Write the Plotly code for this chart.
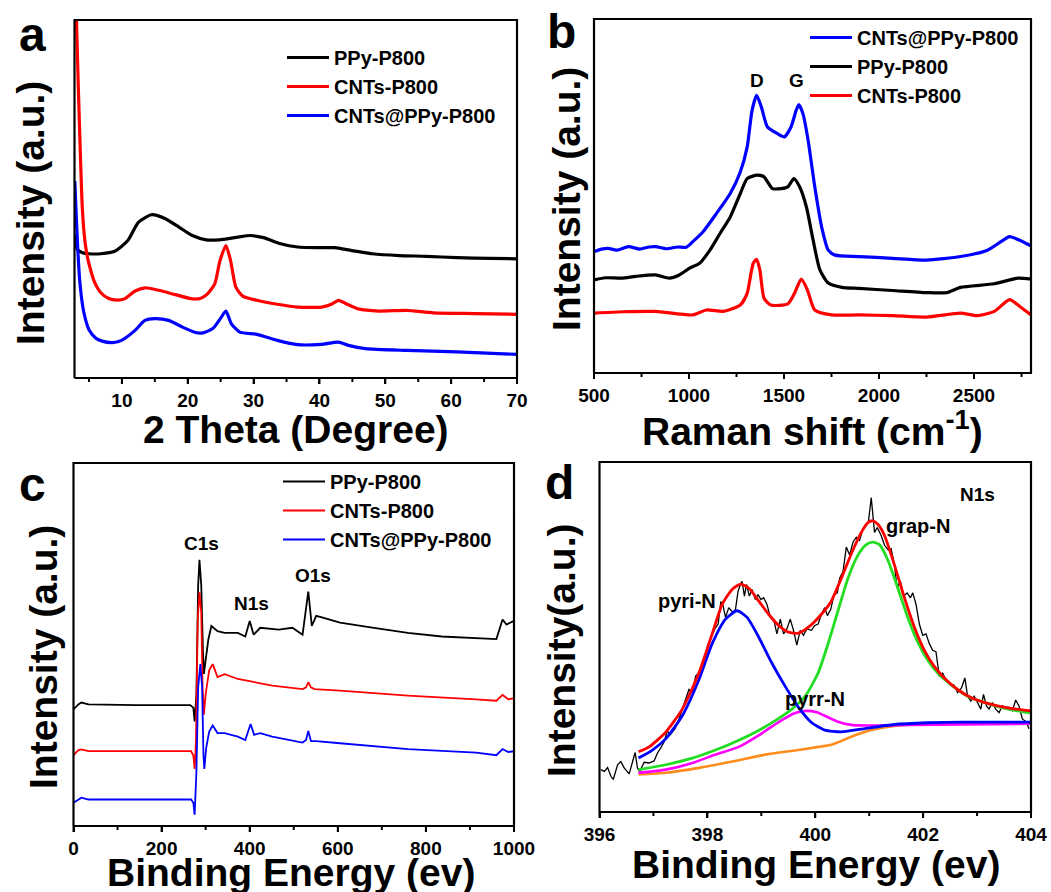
import plotly.graph_objects as go

W, H = 1051, 892
FONT = "Liberation Sans, Arial, Helvetica, sans-serif"

# ---------------- (a) XRD ----------------
xrd_theta_ppy = [2.85, 3.0, 3.3, 4.0, 5.0, 6.8, 8.9, 10.9, 12.5, 14.5, 16.6, 18.7, 20.7, 22.8, 24.8,
                 27.4, 29.5, 31.5, 34.1, 36.7, 39.8, 42.3, 44.9, 48.0, 52.1, 56.2, 60.9, 66.0, 70]
xrd_int_ppy = [40, 37, 35.8, 35.0, 34.7, 34.7, 35.4, 38.4, 43.5, 45.6, 44.5, 42.1, 39.8, 38.6, 38.6,
               39.3, 39.8, 39.2, 37.5, 36.6, 36.4, 36.4, 35.6, 34.7, 34.2, 34.0, 33.6, 33.4, 33.3]

xrd_theta_cnt = [2.8, 3.1, 3.4, 3.7, 4.0, 4.4, 4.85, 5.2, 5.8, 6.8, 8.0, 8.9, 10.4, 12.0, 13.5, 15.6,
                 18.1, 20.7, 22.0, 23.0, 24.1, 24.9, 25.8, 26.5, 27.3, 28.4, 30.5, 33.6, 36.7, 40.3,
                 41.8, 42.9, 43.9, 45.9, 49.0, 53.2, 57.3, 63.5, 70]
xrd_int_cnt = [130, 100, 80, 62, 47, 38, 33, 30.5, 27, 23.8, 22.2, 21.8, 22.1, 24.3, 25.2, 24.5,
               23.3, 22.1, 22.3, 23.5, 26.3, 32.8, 37.0, 32.8, 25.4, 22.8, 21.7, 20.6, 19.8, 19.8,
               20.6, 21.7, 20.9, 19.3, 18.7, 18.9, 18.2, 18.0, 17.8]

xrd_theta_cp = [2.85, 3.0, 3.3, 3.6, 4.2, 5.0, 6.0, 7.0, 8.5, 9.5, 10.4, 12.0, 13.5, 15.0, 17.1, 19.2,
                21.2, 22.3, 23.8, 25.1, 25.8, 26.6, 27.9, 30.5, 33.6, 36.7, 40.3, 42.9, 44.4, 47.0,
                53.2, 60.9, 70]
xrd_int_cp = [55, 48, 36, 27, 18.5, 13.5, 11.2, 10.3, 9.9, 10.2, 11.0, 13.3, 16.1, 16.6, 16.1, 14.2,
              12.7, 12.6, 13.8, 17.0, 18.7, 15.2, 12.8, 12.2, 10.5, 9.3, 9.4, 10.0, 9.1, 8.2,
              7.7, 7.3, 6.6]

# ---------------- (b) Raman ----------------
raman_shift_cp = [500, 540, 575, 620, 682, 740, 790, 824, 880, 940, 985, 1020, 1074, 1145, 1217,
                  1270, 1306, 1332, 1356, 1381, 1413, 1466, 1502, 1537, 1564, 1578, 1600, 1627,
                  1662, 1698, 1733, 1769, 1894, 2072, 2250, 2429, 2571, 2642, 2687, 2732, 2800]
raman_int_cp = [34.3, 35.0, 35.2, 34.7, 35.7, 35.0, 35.6, 35.7, 35.1, 35.6, 35.5, 37.1, 39.9, 45.1,
                50.7, 56.8, 63.8, 74.2, 78.4, 75.1, 69.5, 67.6, 66.7, 69.5, 74.2, 75.8, 73.2, 65.7,
                52.6, 41.3, 34.7, 33.3, 32.9, 32.4, 31.9, 32.9, 34.7, 37.1, 38.5, 37.7, 35.9]

raman_shift_ppy = [500, 560, 646, 720, 824, 896, 949, 1003, 1056, 1110, 1163, 1217, 1270, 1306,
                   1359, 1395, 1439, 1484, 1520, 1552, 1582, 1618, 1653, 1689, 1733, 1805, 1894,
                   2072, 2250, 2357, 2429, 2607, 2732, 2800]
raman_int_ppy = [26.3, 26.9, 26.8, 27.3, 27.7, 26.8, 27.7, 29.6, 31.0, 34.7, 39.4, 44.1, 50.7, 54.9,
                 55.9, 55.4, 52.1, 52.1, 52.6, 54.9, 52.6, 46.9, 37.6, 29.1, 25.4, 24.2, 23.9,
                 23.3, 22.7, 22.7, 24.2, 25.2, 26.8, 26.5]

raman_shift_cnt = [500, 650, 824, 1020, 1092, 1181, 1270, 1306, 1338, 1356, 1373, 1395, 1430, 1520,
                   1555, 1591, 1623, 1662, 1751, 1894, 2072, 2250, 2429, 2518, 2607, 2687, 2741, 2800]
raman_int_cnt = [16.9, 17.3, 17.4, 16.4, 17.8, 17.4, 19.2, 22.5, 31.0, 32.1, 29.1, 21.1, 19.2, 19.5,
                 22.5, 26.5, 23.5, 17.8, 16.4, 16.4, 16.2, 15.8, 16.9, 16.2, 17.4, 20.7, 18.8, 16.4]

# ---------------- (c) XPS survey ----------------
xps_be_ppy = [0, 11, 18, 34, 142, 265, 272, 275, 279, 283, 286, 290, 294, 296, 300, 306, 313, 327,
              343, 373, 390, 400, 409, 424, 466, 497, 520, 525, 533, 541, 551, 566, 605, 682, 759,
              836, 914, 960, 974, 983, 991, 1000]
xps_int_ppy = [32.1, 33.5, 34.0, 33.5, 33.3, 33.3, 32.6, 28.8, 36.3, 66.3, 73.3, 66.3, 47.6, 41.9,
               45.7, 51.3, 55.1, 53.7, 53.2, 53.2, 52.2, 56.5, 52.7, 54.6, 54.1, 54.6, 52.7, 56.9,
               64.6, 55.1, 57.9, 57.4, 56.0, 54.6, 53.2, 52.2, 51.8, 51.5, 56.9, 55.5, 56.0, 56.5]

xps_be_cnt = [0, 11, 18, 34, 142, 267, 272, 275, 278, 282, 286, 290, 293, 296, 300, 308, 316, 327,
              343, 373, 451, 520, 528, 533, 539, 547, 605, 759, 914, 960, 974, 987, 1000]
xps_int_cnt = [19.5, 20.9, 21.1, 20.6, 20.6, 20.6, 19.5, 15.7, 23.2, 56.9, 64.4, 58.8, 38.2, 30.7,
               36.3, 42.9, 44.6, 41.0, 41.8, 40.5, 38.7, 37.7, 38.2, 39.6, 38.2, 37.7, 37.3, 35.9,
               34.9, 34.5, 36.1, 34.9, 35.2]

xps_be_cp = [0, 11, 18, 34, 142, 267, 272, 275, 279, 283, 288, 292, 295, 297, 301, 308, 316, 327,
             343, 373, 390, 402, 410, 424, 451, 520, 528, 533, 539, 551, 605, 759, 914, 960, 974,
             987, 1000]
xps_int_cp = [6.4, 7.3, 7.8, 7.3, 7.3, 7.3, 6.4, 3.1, 14.8, 38.2, 44.6, 38.2, 19.5, 15.7, 21.3, 26.0,
              27.7, 25.6, 25.6, 24.6, 23.7, 28.1, 25.1, 25.6, 24.6, 23.0, 23.7, 26.2, 23.4, 23.4,
              22.8, 21.2, 20.2, 19.5, 21.2, 20.4, 20.6]

# ---------------- (d) N1s high resolution ----------------
n1s_be_raw = [396.027, 396.089, 396.150, 396.212, 396.255, 396.335, 396.396, 396.458, 396.550,
              396.612, 396.661, 396.704, 396.747, 396.827, 396.919, 397.012, 397.073, 397.135,
              397.197, 397.258, 397.302, 397.350, 397.400, 397.474, 397.535, 397.609, 397.658,
              397.720, 397.782, 397.843, 397.904, 397.954, 398.015, 398.077, 398.138, 398.200,
              398.249, 398.286, 398.336, 398.397, 398.471, 398.521, 398.569, 398.613, 398.643,
              398.687, 398.724, 398.779, 398.827, 398.890, 398.938, 398.994, 399.043, 399.105,
              399.167, 399.228, 399.289, 399.352, 399.413, 399.474, 399.536, 399.597, 399.658,
              399.721, 399.782, 399.843, 399.930, 399.991, 400.053, 400.115, 400.176, 400.225,
              400.287, 400.349, 400.410, 400.453, 400.515, 400.576, 400.637, 400.700, 400.761,
              400.822, 400.885, 400.945, 400.988, 401.038, 401.069, 401.099, 401.149, 401.222,
              401.284, 401.357, 401.407, 401.468, 401.518, 401.579, 401.642, 401.703, 401.764,
              401.808, 401.869, 401.930, 401.993, 402.053, 402.115, 402.177, 402.238, 402.299,
              402.362, 402.423, 402.502, 402.565, 402.639, 402.713, 402.774, 402.824, 402.885,
              402.946, 403.008, 403.069, 403.119, 403.174, 403.223, 403.285, 403.346, 403.407,
              403.470, 403.531, 403.592, 403.655, 403.716, 403.777, 403.839, 403.919, 403.961]
n1s_int_raw = [12.1, 11.6, 12.7, 10.2, 9.3, 13.5, 14.4, 12.6, 10.9, 14.4, 17.0, 12.6, 11.6, 14.2,
               14.0, 14.6, 16.8, 18.3, 20.0, 23.3, 21.9, 22.8, 23.8, 26.6, 29.4, 32.4, 35.0, 34.1,
               38.8, 39.7, 42.5, 44.4, 48.1, 50.0, 52.3, 53.7, 60.1, 59.3, 55.6, 58.4, 57.0, 57.9,
               63.1, 65.0, 65.9, 61.7, 65.0, 61.7, 63.6, 60.7, 62.1, 60.7, 61.2, 59.3, 55.6, 55.1,
               50.9, 55.1, 50.9, 52.3, 55.1, 51.9, 47.7, 51.9, 50.5, 52.3, 51.9, 53.3, 53.7, 56.5,
               58.4, 56.1, 57.9, 62.1, 62.6, 66.8, 68.7, 75.7, 73.4, 77.1, 78.5, 77.6, 80.9, 81.8,
               83.2, 89.8, 84.6, 79.9, 81.3, 79.0, 76.2, 74.8, 75.2, 70.6, 64.0, 65.9, 61.7, 62.6,
               61.2, 62.6, 59.3, 53.7, 50.5, 50.9, 48.1, 46.2, 45.8, 38.8, 39.7, 37.8, 36.4, 36.4,
               34.1, 35.5, 38.3, 33.1, 31.7, 33.1, 31.3, 29.4, 33.6, 30.3, 29.4, 31.3, 29.4, 28.4,
               30.3, 29.9, 29.9, 28.9, 32.0, 30.3, 26.6, 25.7, 23.8]

n1s_be_sum = [396.722, 396.919, 397.227, 397.535, 397.843, 398.089, 398.274, 398.459, 398.613,
              398.766, 398.951, 399.136, 399.320, 399.505, 399.690, 399.874, 400.115, 400.299,
              400.484, 400.669, 400.854, 400.977, 401.069, 401.161, 401.284, 401.468, 401.653,
              401.838, 402.023, 402.207, 402.392, 402.639, 402.885, 403.131, 403.378, 403.624, 404.0]
n1s_int_sum = [17.2, 18.6, 22.8, 29.4, 39.7, 50.9, 59.3, 63.6, 65.1, 64.0, 60.3, 56.5, 53.3, 51.4,
               51.1, 52.8, 56.5, 60.3, 66.8, 73.8, 79.9, 82.7, 83.2, 82.2, 79.0, 70.6, 61.2, 52.8,
               46.2, 41.6, 38.3, 35.0, 32.7, 31.3, 30.3, 29.6, 28.9]

n1s_be_grap = [396.722, 397.227, 397.720, 398.151, 398.582, 398.951, 399.259, 399.567, 399.813,
               400.053, 400.238, 400.422, 400.607, 400.792, 400.945, 401.069, 401.191, 401.345,
               401.530, 401.715, 401.899, 402.084, 402.269, 402.515, 402.823, 403.131, 403.439,
               403.747, 404.0]
n1s_int_grap = [12.1, 13.5, 15.4, 17.7, 20.5, 23.3, 26.1, 29.4, 33.1, 39.7, 48.1, 57.5, 66.8, 73.4,
                76.4, 77.1, 76.4, 72.0, 64.0, 55.6, 48.6, 43.4, 39.7, 36.4, 33.1, 31.3, 29.9,
                28.9, 28.3]

n1s_be_pyri = [396.722, 396.981, 397.227, 397.535, 397.843, 398.089, 398.336, 398.551, 398.736,
               398.951, 399.197, 399.443, 399.690, 399.935, 400.176, 400.484, 400.854, 401.468,
               402.084, 402.700, 404.0]
n1s_int_pyri = [15.4, 17.7, 20.9, 27.5, 37.8, 48.1, 55.1, 57.5, 55.6, 50.0, 42.5, 35.9, 29.9, 25.5,
                23.4, 22.9, 23.7, 25.0, 25.5, 25.7, 25.7]

n1s_be_pyrr = [396.722, 397.227, 397.720, 398.151, 398.582, 398.951, 399.320, 399.628, 399.843,
               400.028, 400.176, 400.422, 400.669, 401.161, 401.777, 404.0]
n1s_int_pyrr = [11.2, 12.1, 14.0, 16.4, 18.6, 21.9, 25.7, 28.3, 28.9, 28.5, 27.5, 25.8, 24.9, 24.7,
                24.9, 25.2]

n1s_be_bg = [396.722, 397.227, 397.843, 398.459, 399.074, 399.690, 400.059, 400.299, 400.669,
             401.038, 401.468, 402.084, 404.0]
n1s_int_bg = [10.7, 11.2, 12.6, 14.4, 16.4, 17.7, 18.6, 19.2, 21.5, 23.4, 24.6, 25.2, 25.2]

# tick positions on each x axis (major = labelled, minor = unlabelled)
xrd_major = [10, 20, 30, 40, 50, 60, 70]
xrd_minor = [5, 15, 25, 35, 45, 55, 65]
raman_major = [500, 1000, 1500, 2000, 2500]
raman_minor = [750, 1250, 1750, 2250, 2750]
survey_major = [0, 200, 400, 600, 800, 1000]
survey_minor = [100, 300, 500, 700, 900]
n1s_major = [396, 398, 400, 402, 404]
n1s_minor = [397, 399, 401, 403]

BLACK, RED, BLUE = "#000000", "#ff0000", "#0000ff"
GREEN, MAGENTA, ORANGE = "#22dd22", "#ff00ff", "#ff8c1a"
Y_RANGE = [0, 100]
PAD = 12  # px margin of the frame overlay around each plot area


def px(x):
    return x / W


def py(y):
    return 1 - y / H


# plot-area edges (pixels) and x ranges of the four panels
PANELS = [
    dict(xa="x", ya="y", ox="x5", oy="y5", l=74.5, r=517, t=20, b=378, rng=[2.8, 70],
         major=xrd_major, minor=xrd_minor),
    dict(xa="x2", ya="y2", ox="x6", oy="y6", l=594, r=1031, t=19, b=373, rng=[500, 2800],
         major=raman_major, minor=raman_minor),
    dict(xa="x3", ya="y3", ox="x7", oy="y7", l=73.5, r=514, t=463, b=826, rng=[0, 1000],
         major=survey_major, minor=survey_minor),
    dict(xa="x4", ya="y4", ox="x8", oy="y8", l=599.5, r=1031, t=462, b=812, rng=[396, 404],
         major=n1s_major, minor=n1s_minor),
]

fig = go.Figure()


def line(x, y, color, width, name, xa, ya, legend=None, shape="spline", smoothing=0.6):
    kw = dict(x=x, y=y, mode="lines", name=name, xaxis=xa, yaxis=ya,
              line=dict(color=color, width=width, shape=shape), hoverinfo="skip")
    if shape == "spline":
        kw["line"]["smoothing"] = smoothing
    if legend is None:
        kw["showlegend"] = False
    else:
        kw["legend"] = legend
    fig.add_trace(go.Scatter(**kw))


# panel a
line(xrd_theta_ppy, xrd_int_ppy, BLACK, 3.2, "PPy-P800", "x", "y", "legend")
line(xrd_theta_cnt, xrd_int_cnt, RED, 3.2, "CNTs-P800", "x", "y", "legend")
line(xrd_theta_cp, xrd_int_cp, BLUE, 3.2, "CNTs@PPy-P800", "x", "y", "legend")

# panel b
line(raman_shift_cp, raman_int_cp, BLUE, 3.2, "CNTs@PPy-P800", "x2", "y2", "legend2")
line(raman_shift_ppy, raman_int_ppy, BLACK, 3.2, "PPy-P800", "x2", "y2", "legend2")
line(raman_shift_cnt, raman_int_cnt, RED, 3.2, "CNTs-P800", "x2", "y2", "legend2")

# panel c
line(xps_be_ppy, xps_int_ppy, BLACK, 1.8, "PPy-P800", "x3", "y3", "legend3", shape="linear")
line(xps_be_cnt, xps_int_cnt, RED, 1.8, "CNTs-P800", "x3", "y3", "legend3", shape="linear")
line(xps_be_cp, xps_int_cp, BLUE, 1.8, "CNTs@PPy-P800", "x3", "y3", "legend3", shape="linear")

# panel d
line(n1s_be_raw, n1s_int_raw, BLACK, 1.3, "raw", "x4", "y4", shape="linear")
line(n1s_be_bg, n1s_int_bg, ORANGE, 2.6, "background", "x4", "y4")
line(n1s_be_pyrr, n1s_int_pyrr, MAGENTA, 2.6, "pyrr-N", "x4", "y4")
line(n1s_be_grap, n1s_int_grap, GREEN, 2.8, "grap-N", "x4", "y4")
line(n1s_be_pyri, n1s_int_pyri, BLUE, 2.8, "pyri-N", "x4", "y4")
line(n1s_be_sum, n1s_int_sum, RED, 2.8, "fit", "x4", "y4")

tickfont = dict(family=FONT, size=19, color="black", weight="bold")
layout_axes = {}

# each panel gets a hidden overlay subplot, slightly larger than the plot area and
# sharing its data scale, that carries the box frame and the outward bottom ticks
for i, p in enumerate(PANELS):
    x0, x1 = p["rng"]
    ux = (x1 - x0) / (p["r"] - p["l"])
    uy = (Y_RANGE[1] - Y_RANGE[0]) / (p["b"] - p["t"])
    n = "" if i == 0 else str(i + 1)
    layout_axes["xaxis" + n] = dict(
        domain=[px(p["l"]), px(p["r"])], range=p["rng"], anchor=p["ya"], showline=False,
        showgrid=False, zeroline=False, automargin=False, fixedrange=True,
        ticks="outside", ticklen=5, tickwidth=2, tickcolor="black",
        tickmode="array", tickvals=p["major"], ticktext=[str(v) for v in p["major"]],
        tickfont=tickfont)
    layout_axes["yaxis" + n] = dict(
        domain=[py(p["b"]), py(p["t"])], range=Y_RANGE, anchor=p["xa"], showline=False,
        showgrid=False, zeroline=False, automargin=False, fixedrange=True,
        showticklabels=False, ticks="")
    on = p["ox"][1:]
    layout_axes["xaxis" + on] = dict(
        domain=[px(p["l"] - PAD), px(p["r"] + PAD)],
        range=[x0 - PAD * ux, x1 + PAD * ux], anchor=p["oy"], visible=False,
        fixedrange=True, automargin=False)
    layout_axes["yaxis" + on] = dict(
        domain=[py(p["b"] + PAD), py(p["t"] - PAD)],
        range=[Y_RANGE[0] - PAD * uy, Y_RANGE[1] + PAD * uy], anchor=p["ox"], visible=False,
        fixedrange=True, automargin=False)

    # box frame
    fig.add_trace(go.Scatter(
        x=[x0, x1, x1, x0, x0], y=[Y_RANGE[0], Y_RANGE[0], Y_RANGE[1], Y_RANGE[1], Y_RANGE[0]],
        mode="lines", line=dict(color="black", width=2.2), xaxis=p["ox"], yaxis=p["oy"],
        showlegend=False, hoverinfo="skip"))
    # outward ticks (major longer than minor)
    tx, ty = [], []
    for vals, ln in ((p["major"], 6), (p["minor"], 4)):
        for v in vals:
            tx += [v, v, None]
            ty += [Y_RANGE[0], Y_RANGE[0] - ln * uy, None]
    fig.add_trace(go.Scatter(
        x=tx, y=ty, mode="lines", line=dict(color="black", width=2),
        xaxis=p["ox"], yaxis=p["oy"], showlegend=False, hoverinfo="skip"))

legend_common = dict(bgcolor="rgba(0,0,0,0)", borderwidth=0, xanchor="left", yanchor="top",
                     font=dict(family=FONT, size=20, color="black", weight="bold"),
                     tracegroupgap=0, itemwidth=42, itemclick=False)

fig.update_layout(
    template="none",
    width=W, height=H, autosize=False, margin=dict(l=0, r=0, t=0, b=0, pad=0),
    paper_bgcolor="white", plot_bgcolor="rgba(0,0,0,0)",
    font=dict(family=FONT, color="black"),
    legend=dict(legend_common, x=px(282), y=py(38)),
    legend2=dict(legend_common, x=px(805), y=py(18)),
    legend3=dict(legend_common, x=px(278), y=py(462)),
    **layout_axes,
)

ann = []


def text(x, y, s, size, xref="paper", yref="paper", angle=0, xanchor="center", yanchor="middle"):
    ann.append(dict(x=x, y=y, xref=xref, yref=yref, text=s, showarrow=False, textangle=angle,
                    xanchor=xanchor, yanchor=yanchor,
                    font=dict(family=FONT, size=size, color="black", weight="bold")))


# panel letters
text(px(32), py(34), "a", 48)
text(px(561), py(31), "b", 48)
text(px(32), py(484), "c", 48)
text(px(559), py(482), "d", 48)

# axis titles
text(px(296), py(430), "2 Theta (Degree)", 39)
text(px(31), py(213), "Intensity (a.u.)", 39, angle=-90)
text(px(812), py(428), "Raman shift (cm<sup>-1</sup>)", 39)
text(px(566), py(199), "Intensity (a.u.)", 39, angle=-90)
text(px(291), py(872), "Binding Energy (ev)", 39)
text(px(43), py(657), "Intensity (a.u.)", 39, angle=-90)
text(px(816), py(864), "Binding Energy (ev)", 39)
text(px(561), py(650), "Intensity(a.u.)", 39, angle=-90)

# peak labels
text(1356, 82.6, "D", 19, xref="x2", yref="y2")
text(1565, 82.6, "G", 19, xref="x2", yref="y2")
text(290, 77.7, "C1s", 19, xref="x3", yref="y3")
text(403, 61.4, "N1s", 19, xref="x3", yref="y3")
text(543, 68.9, "O1s", 19, xref="x3", yref="y3")
text(403.0, 90.7, "N1s", 19, xref="x4", yref="y4")
text(401.9, 81.8, "grap-N", 20, xref="x4", yref="y4")
text(397.63, 60.3, "pyri-N", 20, xref="x4", yref="y4")
text(400.0, 32.3, "pyrr-N", 20, xref="x4", yref="y4")

fig.update_layout(annotations=ann)
fig.write_html("out.html")
